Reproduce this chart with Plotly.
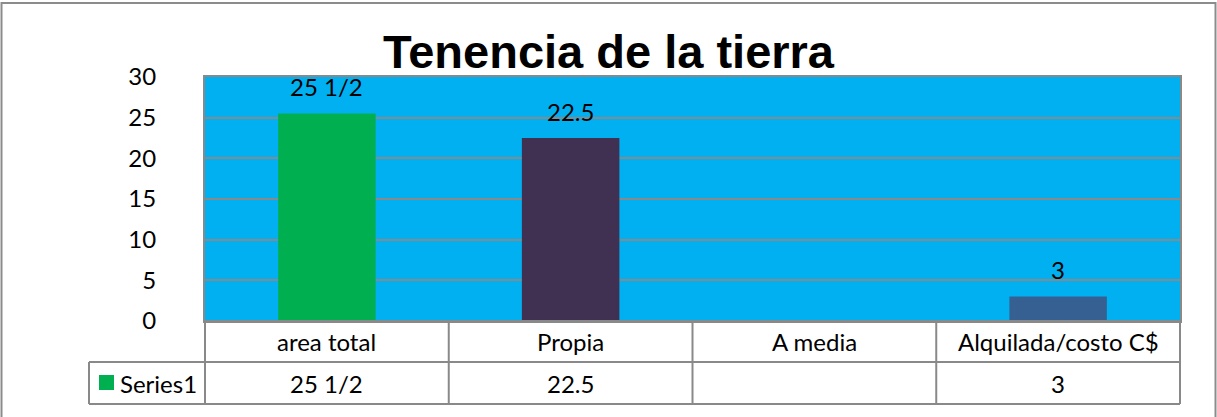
import plotly.graph_objects as go

categories = ["area total", "Propia", "A media", "Alquilada/costo C$"]
values = [25.5, 22.5, None, 3]
value_labels = ["25 1/2", "22.5", "", "3"]
bar_colors = ["#00B050", "#403152", "#376092", "#376092"]
series_name = "Series1"
y_ticks = [0, 5, 10, 15, 20, 25, 30]

W, H = 1217, 417
L, R, T, B = 205, 1180, 77, 321  # plot area in pixels


def xp(px):
    return (px - L) / (R - L)


def yp(py):
    return (B - py) / (B - T)


FONT = "Lato"
GRID = "#898989"

fig = go.Figure()
fig.add_trace(go.Bar(
    x=categories, y=values, width=0.4,
    marker=dict(color=bar_colors, line=dict(width=0)),
    name=series_name, showlegend=False, hoverinfo="skip",
))

# data labels above bars
for c, v, lab in zip(categories, values, value_labels):
    if v is None:
        continue
    fig.add_annotation(x=c, y=v, xref="x", yref="y", text=lab, showarrow=False,
                       yanchor="middle", yshift=27,
                       font=dict(family=FONT, size=24, color="black"))

n = len(categories)
shapes = []
line = dict(color=GRID, width=2)
# outer chart border
shapes.append(dict(type="rect", xref="paper", yref="paper",
                   x0=xp(1.5), x1=xp(1215.5), y0=yp(422), y1=yp(3),
                   line=dict(color="#8c8c8c", width=2), layer="above"))
# table horizontal lines
for py in (362, 404):
    shapes.append(dict(type="line", xref="paper", yref="paper",
                       x0=xp(89), x1=1, y0=yp(py), y1=yp(py), line=line))
shapes.append(dict(type="line", xref="paper", yref="paper",
                   x0=0, x1=1, y0=0, y1=0, line=line))
# table vertical lines (category boundaries)
for i in range(n + 1):
    shapes.append(dict(type="line", xref="paper", yref="paper",
                       x0=i / n, x1=i / n, y0=yp(404), y1=0, line=line))
shapes.append(dict(type="line", xref="paper", yref="paper",
                   x0=xp(89), x1=xp(89), y0=yp(404), y1=yp(362), line=line))
# legend key square
shapes.append(dict(type="rect", xref="paper", yref="paper",
                   x0=xp(99), x1=xp(114), y0=yp(390), y1=yp(375),
                   fillcolor=bar_colors[0], line=dict(width=0)))

annotations_font = dict(family=FONT, size=24, color="black")
for i, c in enumerate(categories):
    fig.add_annotation(x=(i + 0.5) / n, y=yp(341.5), xref="paper", yref="paper",
                       text=c, showarrow=False, xanchor="center", yanchor="middle",
                       font=annotations_font)
    fig.add_annotation(x=(i + 0.5) / n, y=yp(383), xref="paper", yref="paper",
                       text=value_labels[i], showarrow=False, xanchor="center",
                       yanchor="middle", font=annotations_font)
fig.add_annotation(x=xp(118), y=yp(383), xref="paper", yref="paper",
                   text=series_name, showarrow=False, xanchor="left", yanchor="middle",
                   font=annotations_font)

fig.update_layout(
    width=W, height=H,
    margin=dict(l=L, r=W - R, t=T, b=H - B, pad=0),
    paper_bgcolor="white",
    plot_bgcolor="#00B0F0",
    title=dict(text="<b>Tenencia de la tierra</b>", x=0.5, xref="container",
               y=1 - 52 / H, yref="container", xanchor="center", yanchor="middle",
               font=dict(family="Liberation Sans", size=47, color="black")),
    shapes=shapes,
    bargap=0.6,
    showlegend=False,
    hovermode=False,
)
fig.update_xaxes(type="category", range=[-0.5, n - 0.5], showticklabels=False,
                 showgrid=False, showline=True, linecolor=GRID, linewidth=2,
                 mirror=True, ticks="", zeroline=False)
fig.update_yaxes(range=[0, 30], tickvals=y_ticks, showgrid=True, gridcolor=GRID,
                 gridwidth=1.5, showline=True, linecolor=GRID, linewidth=2, mirror=True,
                 ticks="", zeroline=False, ticklabelstandoff=42,
                 tickfont=dict(family=FONT, size=24, color="black"))

fig.write_html("out.html", config={"displayModeBar": False},
               post_script="document.body.style.margin='0';document.body.style.overflow='hidden';")
